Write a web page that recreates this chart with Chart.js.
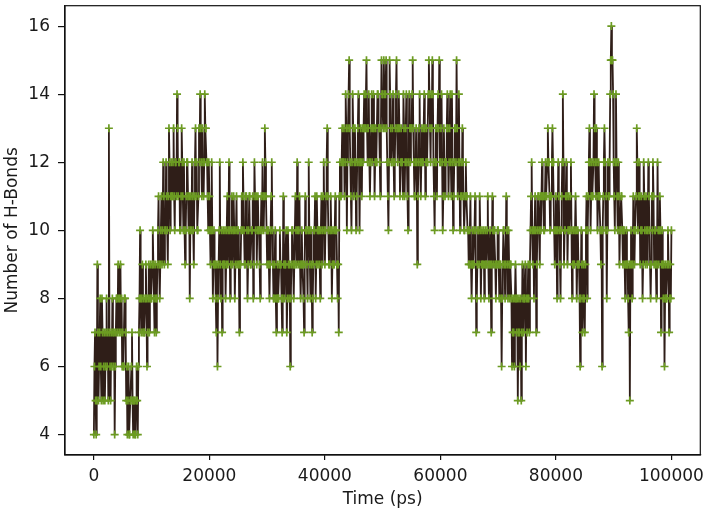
<!DOCTYPE html>
<html><head><meta charset="utf-8">
<script src="https://cdn.jsdelivr.net/npm/chart.js@4.4.1/dist/chart.umd.min.js"></script>
<style>html,body{margin:0;padding:0;background:#fff;} canvas{display:block;}</style>
</head><body>
<canvas id="c" width="706" height="512"></canvas>
<script>
const timeStepPs = 100;
const hBonds = [
 4,6,7,5,4,5,9,7,5,6,7,8,6,5,8,7,5,6,7,5,6,7,8,6,7,5,13,7,6,5,7,6,8,7,6,7,4,6,7,8,8,7,9,8,7,8,9,7,8,6,
 7,6,6,8,8,7,5,6,4,5,6,4,4,5,5,6,7,5,4,5,5,4,4,5,6,5,4,6,7,8,10,8,7,8,9,7,8,7,7,8,9,8,6,7,8,9,7,8,9,8,
 8,9,10,9,8,7,9,8,7,8,9,10,11,9,8,9,10,11,9,10,12,11,9,10,10,12,11,10,9,11,13,12,10,11,12,11,11,12,13,11,10,12,12,11,14,13,11,12,12,10,
 10,11,13,12,11,10,12,10,9,10,11,12,12,11,10,11,8,10,11,10,12,11,10,9,11,12,13,11,12,10,10,11,13,12,14,13,12,11,13,12,11,12,14,13,13,12,12,11,10,12,
 11,10,9,10,12,10,8,9,10,9,9,8,7,9,6,8,9,10,12,9,8,10,7,9,10,9,9,10,8,9,10,11,9,10,12,10,8,9,10,11,9,10,11,10,8,9,10,11,9,10,
 10,9,7,9,9,10,11,10,12,11,10,9,9,11,11,10,8,9,10,11,11,9,9,10,10,11,8,9,12,11,10,11,9,10,11,10,10,9,8,10,11,10,12,11,10,11,13,12,11,10,
 9,10,10,9,8,9,10,11,12,10,9,8,8,9,10,8,7,8,9,8,8,9,10,9,9,8,7,8,11,9,8,9,9,10,7,8,10,9,8,9,6,8,9,10,10,9,8,9,9,11,
 10,9,12,10,9,10,11,9,8,9,10,9,9,8,7,9,11,10,10,9,8,10,12,10,9,8,10,9,7,8,9,10,10,11,8,9,11,10,9,10,10,9,8,10,11,9,10,11,12,10,
 9,10,11,12,13,11,10,9,9,10,11,10,8,9,10,9,9,10,11,10,10,9,8,9,7,11,12,11,11,12,13,12,12,13,11,12,14,13,10,12,13,14,15,13,12,11,10,12,14,13,
 11,12,13,12,10,11,12,13,14,12,10,12,13,12,11,13,12,13,14,13,13,14,15,13,12,13,14,12,11,12,13,14,12,13,14,13,11,12,13,12,12,14,14,13,13,12,11,13,15,14,
 14,13,15,14,13,14,15,13,12,11,10,12,15,14,13,12,12,13,14,12,11,12,13,14,15,13,12,13,14,13,11,12,13,12,12,11,14,13,11,12,13,14,12,11,10,12,14,13,12,13,
 13,14,15,13,12,11,11,12,13,12,9,11,12,13,14,12,11,12,13,12,12,13,14,13,11,12,13,12,12,14,15,14,13,12,14,13,15,14,12,11,10,12,13,12,11,13,14,13,15,12,
 12,13,14,12,10,11,13,12,11,12,12,13,14,13,11,12,13,14,12,11,14,12,10,11,12,13,13,12,15,13,11,12,14,12,10,11,12,11,13,12,11,10,10,11,12,11,11,10,10,9,
 9,10,11,9,8,9,10,9,9,10,11,10,7,8,9,10,10,9,11,10,8,9,10,9,9,10,8,9,10,9,9,10,11,9,8,9,10,9,7,9,11,10,9,10,10,9,8,9,9,10,
 10,9,8,9,9,8,6,8,9,10,10,9,8,9,11,10,9,8,10,9,8,9,9,8,6,7,8,7,6,8,9,8,7,8,5,7,8,7,6,8,5,7,9,8,7,8,8,9,6,8,
 7,8,9,8,7,9,10,11,12,10,9,10,8,10,11,10,7,9,10,11,11,10,9,11,10,11,12,11,11,10,10,11,12,11,11,12,13,12,12,11,10,11,11,12,13,12,12,10,9,10,
 11,10,8,10,12,11,10,9,8,10,11,12,14,12,9,10,10,11,12,11,9,10,11,10,10,11,12,10,8,9,10,9,9,10,11,10,8,9,10,9,9,8,6,8,10,9,7,8,9,8,
 7,9,10,11,8,10,11,12,13,12,10,11,12,11,11,12,14,13,12,11,13,12,10,11,12,11,11,10,9,10,6,10,11,12,13,12,10,11,8,10,12,11,11,12,14,15,16,15,15,14,
 12,11,10,12,14,12,11,10,12,11,9,10,10,11,11,10,9,10,10,9,8,9,10,9,9,8,7,9,5,9,10,9,8,9,11,10,9,10,10,11,13,12,10,11,12,11,9,10,11,10,
 8,9,12,11,10,9,11,10,9,10,12,11,10,9,8,9,11,10,12,11,9,10,10,9,8,9,12,10,9,10,11,10,7,9,10,9,8,9,6,8,9,8,8,9,10,9,7,8,9,8,
 10
];
const xTicks = [0, 20000, 40000, 60000, 80000, 100000];
const yTicks = [4, 6, 8, 10, 12, 14, 16];
const xTitle = 'Time (ps)';
const yTitle = 'Number of H-Bonds';

const points = hBonds.map((v, i) => ({x: i * timeStepPs, y: v}));
const FONT = {family: 'DejaVu Sans', size: 17};
const TXT = '#1a1a1a';

const framePlugin = {
  id: 'frame',
  afterDraw(chart) {
    const a = chart.chartArea, ctx = chart.ctx;
    ctx.save();
    ctx.strokeStyle = '#111';
    ctx.lineWidth = 1.2;
    ctx.strokeRect(a.left, a.top, a.right - a.left, a.bottom - a.top);
    ctx.restore();
  }
};

new Chart(document.getElementById('c'), {
  type: 'line',
  data: {
    datasets: [{
      data: points,
      borderColor: '#2f1e18',
      borderWidth: 1.8,
      tension: 0,
      pointStyle: 'cross',
      pointRadius: 4,
      pointBorderColor: '#6c9b22',
      pointBackgroundColor: '#6c9b22',
      pointBorderWidth: 1.7,
      fill: false
    }]
  },
  options: {
    responsive: false,
    animation: false,
    devicePixelRatio: 1,
    layout: {padding: {top: 3, right: 5, left: 0, bottom: 0}},
    plugins: {legend: {display: false}, tooltip: {enabled: false}},
    scales: {
      x: {
        type: 'linear',
        min: -5000, max: 105000,
        afterBuildTicks: s => { s.ticks = xTicks.map(v => ({value: v})); },
        afterFit: s => { s.height = 57; s.paddingLeft = 0; s.paddingRight = 0; },
        ticks: {callback: v => String(v), font: FONT, color: TXT, padding: 6, maxRotation: 0, autoSkip: false},
        grid: {display: true, drawOnChartArea: false, drawTicks: true, tickLength: 5, color: '#111', lineWidth: 1.2},
        border: {display: true, color: '#111', width: 1.2},
        title: {display: true, text: xTitle, font: FONT, color: TXT, padding: {top: 0, bottom: 2}}
      },
      y: {
        type: 'linear',
        min: 3.4, max: 16.6,
        afterBuildTicks: s => { s.ticks = yTicks.map(v => ({value: v})); },
        afterFit: s => { s.width = 65; s.paddingTop = 0; s.paddingBottom = 0; },
        ticks: {callback: v => String(v), font: FONT, color: TXT, padding: 8, autoSkip: false},
        grid: {display: true, drawOnChartArea: false, drawTicks: true, tickLength: 7, color: '#111', lineWidth: 1.2},
        border: {display: true, color: '#111', width: 1.2},
        title: {display: true, text: yTitle, font: FONT, color: TXT, padding: {top: 2, bottom: 0}}
      }
    }
  },
  plugins: [framePlugin]
});
</script>
</body></html>
